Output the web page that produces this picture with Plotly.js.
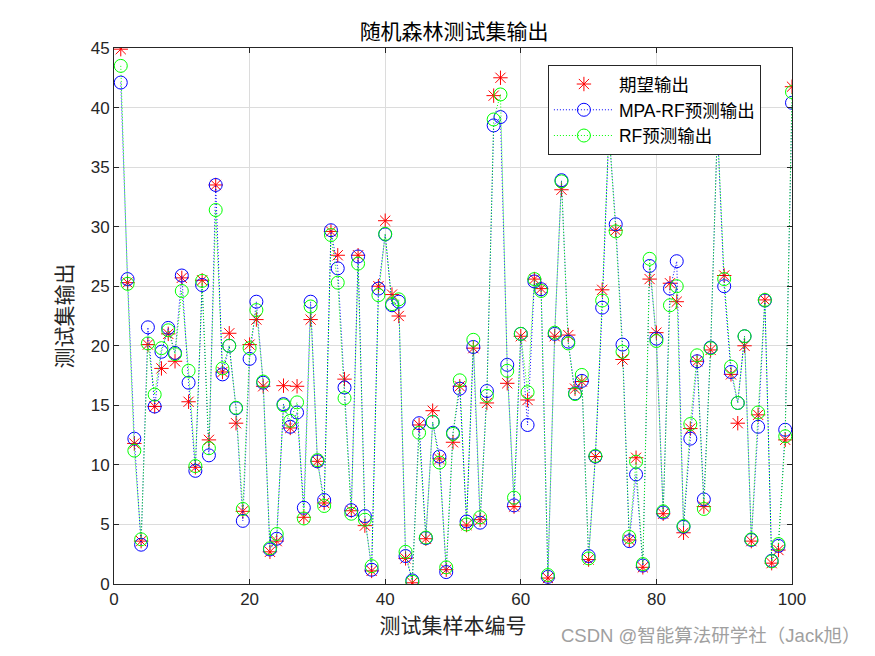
<!DOCTYPE html>
<html>
<head>
<meta charset="utf-8">
<script src="https://cdn.plot.ly/plotly-3.0.1.min.js"></script>
<style>html,body{margin:0;padding:0;background:#fff;}#chart{width:875px;height:656px;}</style>
</head>
<body>
<div id="chart"></div>
<script>
const sampleIndex = Array.from({length: 100}, (_, i) => i + 1);

const expectedOutput = [
 44.9, 25.3, 11.8, 3.6, 20.1, 14.9, 18.1, 21.0, 18.7, 25.7,
 15.3, 9.8, 25.5, 12.1, 33.5, 17.8, 21.05, 13.5, 6.1, 20.1,
 22.2, 16.6, 2.7, 3.6, 16.65, 13.1, 16.6, 5.6, 22.2, 10.3,
 6.8, 29.6, 27.6, 17.2, 6.15, 27.6, 4.9, 1.1, 25.0, 30.5,
 24.3, 22.5, 2.15, 0.1, 13.35, 3.8, 14.55, 10.5, 1.2, 11.9,
 16.6, 4.95, 19.8, 5.4, 15.2, 41.0, 42.5, 16.85, 6.5, 20.8,
 15.45, 25.6, 24.8, 0.5, 20.8, 33.1, 20.9, 16.4, 17.0, 2.05,
 10.7, 24.7, 38.5, 29.7, 18.85, 3.7, 10.6, 1.4, 25.6, 21.1,
 5.9, 25.25, 23.7, 4.3, 13.05, 18.7, 6.5, 19.65, 39.0, 25.9,
 17.6, 13.5, 20.0, 3.6, 14.2, 23.85, 1.75, 2.85, 12.1, 41.75
];

const mpaRfOutput = [
 42.1, 25.6, 12.2, 3.3, 21.55, 14.9, 19.5, 21.5, 19.4, 25.9,
 16.9, 9.5, 25.1, 10.8, 33.5, 17.6, 20.0, 14.75, 5.3, 18.9,
 23.7, 16.9, 2.9, 3.8, 15.1, 13.2, 14.4, 6.4, 23.7, 10.3,
 7.05, 29.7, 26.5, 16.5, 6.2, 27.5, 5.7, 1.2, 24.8, 29.35,
 23.4, 23.7, 2.35, 0.3, 13.5, 3.85, 13.6, 10.7, 1.0, 12.7,
 16.4, 5.25, 19.9, 5.15, 16.2, 38.5, 39.2, 18.4, 6.6, 21.0,
 13.35, 25.4, 24.75, 0.6, 21.0, 33.9, 20.35, 16.0, 17.05, 2.35,
 10.7, 23.2, 38.0, 30.2, 20.1, 3.6, 9.2, 1.55, 26.7, 20.6,
 6.0, 24.8, 27.1, 4.8, 12.2, 18.7, 7.1, 19.85, 38.3, 25.0,
 17.8, 15.2, 20.8, 3.7, 13.2, 23.8, 1.95, 3.2, 12.95, 40.4
];

const rfOutput = [
 43.5, 25.2, 11.2, 3.75, 20.2, 15.9, 19.8, 21.3, 19.3, 24.6,
 17.9, 9.9, 25.45, 11.4, 31.4, 18.1, 20.0, 14.8, 6.3, 19.8,
 23.0, 17.0, 3.0, 4.2, 15.0, 13.7, 15.25, 5.5, 23.3, 10.4,
 6.55, 29.3, 25.3, 15.6, 5.9, 26.9, 5.4, 1.5, 24.25, 29.4,
 23.5, 23.9, 2.7, 0.2, 12.7, 3.9, 13.6, 10.2, 1.4, 12.6,
 17.1, 5.0, 20.5, 5.6, 15.8, 39.0, 41.1, 17.9, 7.25, 21.0,
 16.1, 25.6, 24.6, 0.75, 21.1, 33.8, 20.2, 15.95, 17.55, 2.15,
 10.75, 23.8, 38.2, 29.6, 19.5, 3.95, 10.27, 1.67, 27.3, 20.4,
 6.1, 23.4, 25.0, 4.87, 13.43, 19.2, 6.3, 19.8, 38.5, 25.6,
 18.25, 15.2, 20.8, 3.75, 14.4, 23.85, 1.9, 3.35, 12.4, 41.3
];

const seriesNames = ['期望输出', 'MPA-RF预测输出', 'RF预测输出'];
const xTicks = [0, 20, 40, 60, 80, 100];
const yTicks = [0, 5, 10, 15, 20, 25, 30, 35, 40, 45];

const cjk = '"Noto Sans CJK SC", "Liberation Sans", Arial, sans-serif';
const latin = '"Liberation Sans", "Noto Sans CJK SC", Arial, sans-serif';

const traces = [
  {
    x: sampleIndex, y: expectedOutput, name: seriesNames[0],
    type: 'scatter', mode: 'markers',
    marker: {symbol: 'asterisk-open', size: 12, color: '#ff0000', line: {color: '#ff0000', width: 1}}
  },
  {
    x: sampleIndex, y: mpaRfOutput, name: seriesNames[1],
    type: 'scatter', mode: 'lines+markers',
    line: {color: '#0000ff', width: 1, dash: '1px,2px'},
    marker: {symbol: 'circle-open', size: 13, color: '#0000ff', line: {color: '#0000ff', width: 1}}
  },
  {
    x: sampleIndex, y: rfOutput, name: seriesNames[2],
    type: 'scatter', mode: 'lines+markers',
    line: {color: '#00ff00', width: 1, dash: '1px,2px'},
    marker: {symbol: 'circle-open', size: 13, color: '#00ff00', line: {color: '#00ff00', width: 1}}
  }
];

const axisCommon = {
  showline: true, linecolor: '#262626', linewidth: 1, mirror: 'ticks',
  ticks: 'inside', ticklen: 5, tickcolor: '#262626', tickwidth: 1,
  showgrid: true, gridcolor: '#dcdcdc', gridwidth: 1, zeroline: false,
  tickfont: {family: latin, size: 17, color: '#262626'}
};

const layout = {
  width: 875, height: 656,
  paper_bgcolor: '#ffffff', plot_bgcolor: '#ffffff',
  margin: {l: 114, r: 83, t: 48, b: 72},
  title: {text: '随机森林测试集输出', font: {family: cjk, size: 21, color: '#000000'}, x: 0.519, xanchor: 'center', y: 0.951, yanchor: 'middle'},
  xaxis: Object.assign({}, axisCommon, {
    range: [0, 100], tickvals: xTicks, ticktext: xTicks.map(String),
    title: {text: '测试集样本编号', font: {family: cjk, size: 21, color: '#262626'}, standoff: 6}
  }),
  yaxis: Object.assign({}, axisCommon, {
    range: [0, 45], tickvals: yTicks, ticktext: yTicks.map(String),
    title: {text: '测试集输出', font: {family: cjk, size: 21, color: '#262626'}, standoff: 12}
  }),
  showlegend: true,
  legend: {
    x: 0.640, y: 0.968, xanchor: 'left', yanchor: 'top',
    bgcolor: '#ffffff', bordercolor: '#262626', borderwidth: 1,
    font: {family: latin, size: 17.5, color: '#000000'},
    tracegroupgap: 0, itemwidth: 60
  },
  annotations: [{
    text: 'CSDN @智能算法研学社（Jack旭）', xref: 'paper', yref: 'paper',
    x: 1.103, y: -0.097, xanchor: 'right', yanchor: 'middle', showarrow: false,
    font: {family: latin, size: 18.5, color: '#a0a0a0'}
  }]
};

Plotly.newPlot('chart', traces, layout, {displayModeBar: false, staticPlot: true});
</script>
</body>
</html>
